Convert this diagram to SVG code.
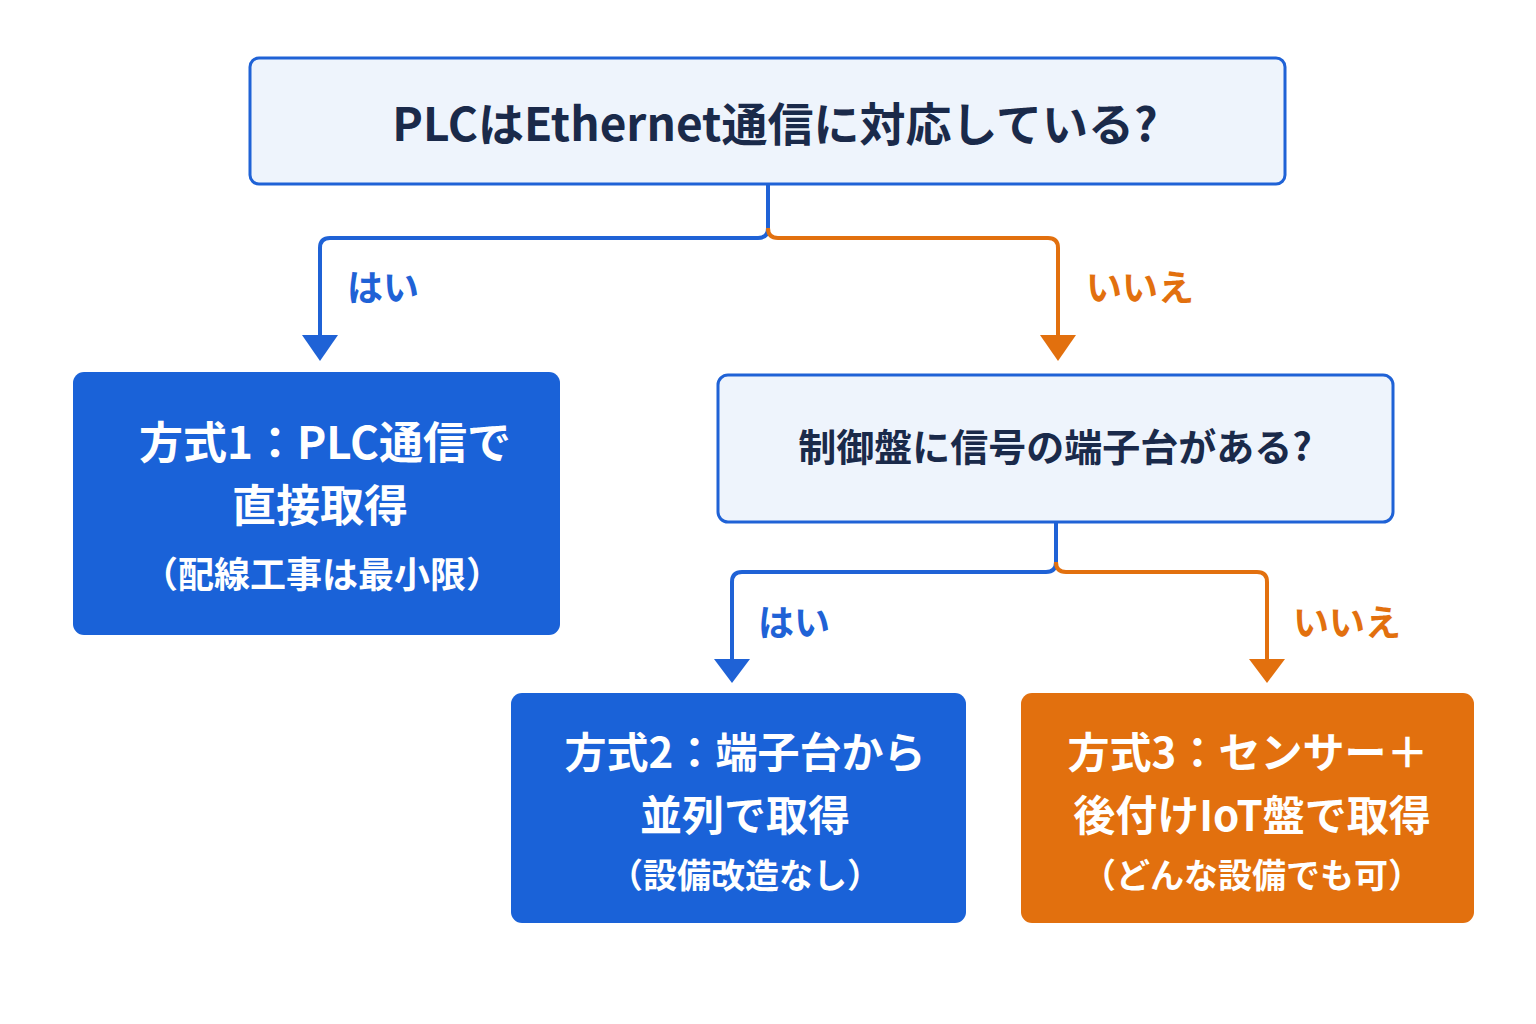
<svg xmlns="http://www.w3.org/2000/svg" width="1536" height="1024" viewBox="0 0 1536 1024">
<defs>
<style>
.t{font-family:"Noto Sans CJK JP","Noto Sans",sans-serif;font-weight:bold;text-anchor:middle}
.q{fill:#eef4fc;stroke:#1f62d6;stroke-width:3}
.b{fill:#1a62d8}
.o{fill:#e2700e}
.lb{stroke:#1f62d6;stroke-width:4;fill:none}
.lo{stroke:#e2700e;stroke-width:4;fill:none}
</style>
<marker id="ab" markerWidth="10" markerHeight="8" refX="5" refY="8" orient="auto" markerUnits="userSpaceOnUse" viewBox="0 0 10 8"><path d="M0,0 L10,0 L5,8 Z" fill="#1f62d6"/></marker>
<marker id="ao" markerWidth="10" markerHeight="8" refX="5" refY="8" orient="auto" markerUnits="userSpaceOnUse" viewBox="0 0 10 8"><path d="M0,0 L10,0 L5,8 Z" fill="#e2700e"/></marker>
</defs>
<rect width="1536" height="1024" fill="#fff"/>
<g id="connectors">
<path class="lb" d="M768,184 V228 Q768,238 758,238 H330 Q320,238 320,248 V336"/>
<path d="M302,335 H338 L320,361 Z" fill="#1f62d6"/>
<path class="lo" d="M768,228 Q768,238 778,238 H1048 Q1058,238 1058,248 V336"/>
<path d="M1040,335 H1076 L1058,361 Z" fill="#e2700e"/>
<path class="lb" d="M1056,522 V562 Q1056,572 1046,572 H742 Q732,572 732,582 V660"/>
<path d="M714,659 H750 L732,683 Z" fill="#1f62d6"/>
<path class="lo" d="M1056,562 Q1056,572 1066,572 H1257 Q1267,572 1267,582 V660"/>
<path d="M1249,659 H1285 L1267,683 Z" fill="#e2700e"/>
<text class="t" x="383" y="301" font-size="36" fill="#1f62d6">はい</text>
<text class="t" x="1140" y="301" font-size="36" fill="#e2700e">いいえ</text>
<text class="t" x="794" y="636" font-size="36" fill="#1f62d6">はい</text>
<text class="t" x="1347" y="636" font-size="36" fill="#e2700e">いいえ</text>
</g>
<g id="q1"><rect class="q" x="250" y="58" width="1035" height="126" rx="9"/>
<text class="t" x="775" y="141" font-size="46" fill="#1a2a4a">PLCはEthernet通信に対応している?</text></g>
<g id="m1"><rect class="b" x="73" y="372" width="487" height="263" rx="11"/>
<text class="t" x="325" y="459" font-size="44" fill="#fff">方式1：PLC通信で</text>
<text class="t" x="320" y="522" font-size="44" fill="#fff">直接取得</text>
<text class="t" x="322" y="588" font-size="36" fill="#fff">（配線工事は最小限）</text></g>
<g id="q2"><rect class="q" x="718" y="375" width="675" height="147" rx="10"/>
<text class="t" x="1055" y="461" font-size="38" fill="#1a2a4a">制御盤に信号の端子台がある?</text></g>
<g id="m2"><rect class="b" x="511" y="693" width="455" height="230" rx="11"/>
<text class="t" x="745" y="768" font-size="42" fill="#fff">方式2：端子台から</text>
<text class="t" x="745" y="831" font-size="42" fill="#fff">並列で取得</text>
<text class="t" x="745" y="888" font-size="34" fill="#fff">（設備改造なし）</text></g>
<g id="m3"><rect class="o" x="1021" y="693" width="453" height="230" rx="11"/>
<text class="t" x="1248" y="768" font-size="42" fill="#fff">方式3：センサー＋</text>
<text class="t" x="1252" y="831" font-size="42" fill="#fff">後付けIoT盤で取得</text>
<text class="t" x="1252" y="888" font-size="34" fill="#fff">（どんな設備でも可）</text></g>
</svg>
